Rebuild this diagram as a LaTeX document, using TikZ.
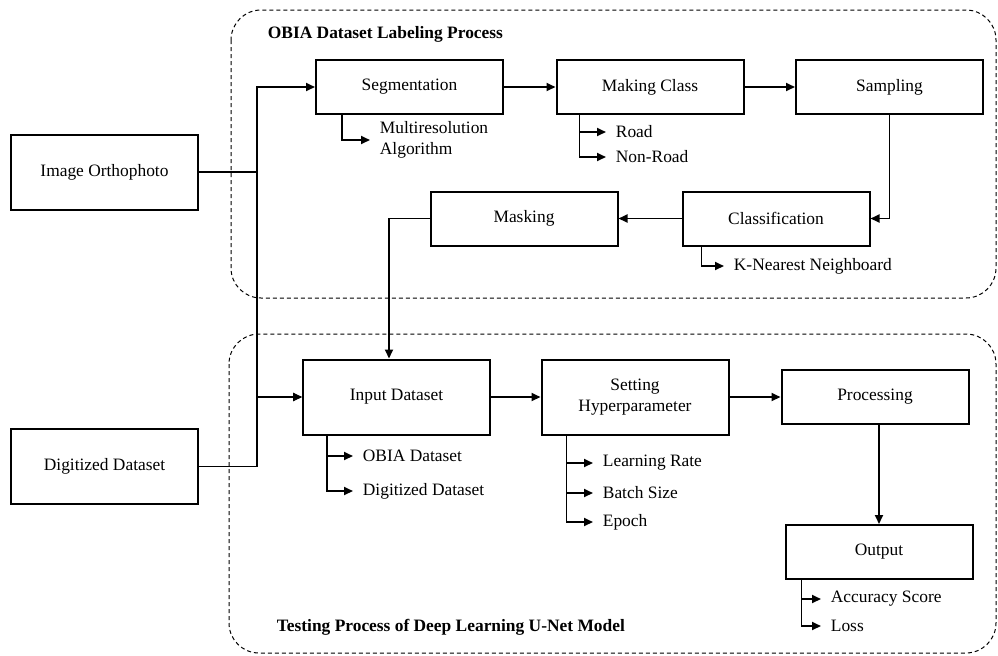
\documentclass[tikz,border=0pt]{standalone}
\usepackage{fontspec}
\setmainfont{Liberation Serif}
\usetikzlibrary{arrows.meta}

\begin{document}
\begin{tikzpicture}[x=0.5pt, y=-0.5pt, line width=0.9pt, >={Triangle[length=4.5pt,width=4pt]},
    font=\fontsize{8.7}{10.2}\selectfont,
    blk/.style={draw, line width=1pt, minimum width=93.5pt, minimum height=27pt, align=center, inner sep=2pt},
    tall/.style={blk, minimum height=37.5pt},
    sub/.style={anchor=west, inner xsep=4.5pt, inner ysep=1pt, align=left},
    grp/.style={draw, line width=0.5pt, dash pattern=on 2pt off 1.5pt, rounded corners=15pt},
    ttl/.style={anchor=west, inner sep=0pt, font=\fontsize{8.7}{10.2}\selectfont\bfseries}]
  \useasboundingbox (0,0) rectangle (998,655);
  % the two process frames with their titles
  \draw[grp] (231,10) rectangle (996,298);
  \draw[grp] (229,334) rectangle (996,653);
  \node[ttl] (ttl1) at (267,34) {OBIA Dataset Labeling Process};
  \node[ttl] (ttl2) at (276,627) {Testing Process of Deep Learning U-Net Model};
  % sources
  \node[tall] (orto) at (104.5,172) {Image Orthophoto};
  \node[tall] (digi) at (104.5,466.5) {Digitized Dataset};
  \coordinate (jn) at (257,172);
  % labeling chain
  \node[blk] (seg)  at (409.5,87)  {Segmentation};
  \node[blk] (mk)   at (650,87)    {Making Class};
  \node[blk] (samp) at (889.5,87)  {Sampling};
  \node[blk] (clsf) at (776,218.5) {Classification};
  \node[blk] (mask) at (524,218.5) {Masking};
  % testing chain
  \node[tall] (inp) at (396.5,397) {Input Dataset};
  \node[tall] (hyp) at (635,397)   {Setting\\ Hyperparameter};
  \node[blk]  (proc) at (875,397)  {Processing};
  \node[blk]  (out)  at (879,552)  {Output};
  % main flow
  \draw (orto.east) -- (jn);
  \draw[->] (jn) |- (seg.west);
  \draw[->] (jn) |- (inp.west);
  \draw[->] (digi.east) -- (digi.east -| jn) |- (inp.west);
  \draw[->] (seg) -- (mk);
  \draw[->] (mk) -- (samp);
  \draw[->] (samp.south) |- (clsf.east);
  \draw[->] (clsf) -- (mask);
  \draw[->] (mask.west) -| ([xshift=-3.75pt]inp.north);
  \draw[->] (inp) -- (hyp);
  \draw[->] (hyp) -- (proc);
  \draw[->] (proc.south -| out.north) -- (out.north);
  % sub items
  \node[sub] (mra) at (370,140) {Multiresolution\\Algorithm};
  \draw[->] ([xshift=13.5pt]seg.south west) |- (mra.west);
  \foreach \n/\y/\t in {rd/132/Road, nrd/157/Non-Road} {
    \node[sub] (\n) at (606,\y) {\t};
    \draw[->] ([xshift=12pt]mk.south west) |- (\n.west);
  }
  \node[sub] (knn) at (724,266) {K-Nearest Neighboard};
  \draw[->] ([xshift=10pt]clsf.south west) |- (knn.west);
  \foreach \n/\y/\t in {od/456/OBIA Dataset, dd/491/Digitized Dataset} {
    \node[sub] (\n) at (353,\y) {\t};
    \draw[->] ([xshift=12.5pt]inp.south west) |- (\n.west);
  }
  \foreach \n/\y/\t in {lr/463/Learning Rate, bs/493/Batch Size, ep/522/Epoch} {
    \node[sub] (\n) at (593,\y) {\t};
    \draw[->] ([xshift=13pt]hyp.south west) |- (\n.west);
  }
  \foreach \n/\y/\t in {acc/599/Accuracy Score, ls/626/Loss} {
    \node[sub] (\n) at (821,\y) {\t};
    \draw[->] ([xshift=8.5pt]out.south west) |- (\n.west);
  }
\end{tikzpicture}
\end{document}
